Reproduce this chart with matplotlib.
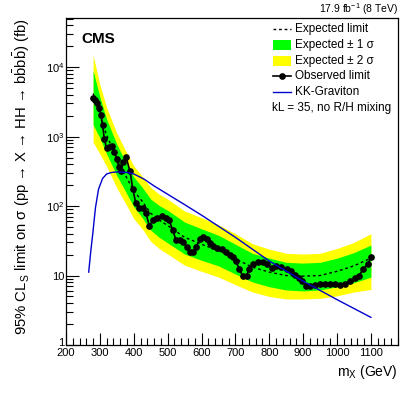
import matplotlib
matplotlib.use("Agg")
import matplotlib.pyplot as plt
import matplotlib.transforms as mtrans
from matplotlib.lines import Line2D
from matplotlib.patches import Rectangle
from matplotlib.ticker import FixedLocator, FixedFormatter, MultipleLocator, LogLocator, NullFormatter

plt.rcParams['font.family'] = ['Liberation Sans', 'DejaVu Sans']
plt.rcParams['mathtext.fontset'] = 'custom'
plt.rcParams['mathtext.rm'] = 'Liberation Sans'
plt.rcParams['mathtext.it'] = 'Liberation Sans:italic'
plt.rcParams['mathtext.bf'] = 'Liberation Sans:bold'

# observed limit (fb)
obs_mass = [279, 286, 292, 298, 303, 308, 313, 320, 328, 335, 342, 350, 356, 362, 369, 377,
            389, 397, 406, 416, 426, 436, 446, 456, 468, 482, 495, 505, 515, 524, 536, 546,
            556, 566, 576, 585, 595, 605, 615, 625, 635, 647, 660, 673, 685, 694, 701, 711,
            721, 733, 741, 752, 767, 782, 794, 807, 821, 836, 851, 863, 876, 888, 898, 908,
            920, 935, 949, 964, 979, 994, 1008, 1023, 1038, 1053, 1065, 1077, 1090, 1100]
obs_limit = [3550, 3390, 3020, 2570, 2040, 1480, 933, 676, 708, 741, 603, 479, 363, 324, 427, 513,
             316, 178, 110, 93, 93, 79, 52, 62, 68, 71, 68, 62, 45, 33, 32, 30,
             26, 22, 22, 26, 34, 36, 34, 29, 26.3, 25.1, 24, 21.9, 20, 18.2, 16.2, 12.6,
             10, 10, 12.6, 14.5, 15.5, 15.8, 14.5, 12.9, 13.5, 13.2, 12.6, 11.5, 10.2, 9.3, 8.3, 7.1,
             7.1, 7.4, 7.6, 7.6, 7.6, 7.6, 7.4, 7.6, 8.3, 9.1, 10, 12.3, 14.5, 18.2]

# expected limit and bands (fb)
exp_mass = [280, 300, 320, 350, 380, 400, 425, 450, 475, 500, 550, 600, 650, 700, 750,
            800, 850, 900, 950, 1000, 1050, 1100]
exp_limit = [4170, 2000, 1050, 479, 251, 166, 117, 79, 63, 52.5, 35.5, 28.2, 22.9, 17.4, 13.2,
             11.2, 10.0, 9.8, 10.0, 11.5, 13.8, 17.8]
exp_p1 = [8910, 3720, 1780, 776, 398, 263, 186, 126, 102, 87, 59, 47, 38, 28.2, 20.9,
          17.8, 15.5, 15.1, 15.5, 17.8, 21.4, 27.5]
exp_m1 = [1480, 955, 562, 275, 148, 98, 68, 45, 35.5, 29.5, 20.4, 16.6, 13.8, 10.5, 8.1,
          6.9, 6.2, 6.0, 6.2, 6.9, 7.9, 9.5]
exp_p2 = [14800, 5620, 2630, 1120, 575, 380, 269, 186, 148, 126, 85, 68, 54, 40, 28.8,
          24, 20.9, 20.4, 20.9, 24.5, 30, 40]
exp_m2 = [832, 562, 372, 182, 100, 66, 47, 31, 24.5, 20.4, 14.1, 11.5, 9.5, 7.4, 5.8,
          5.0, 4.6, 4.6, 4.7, 5.1, 5.8, 6.3]

# KK-Graviton cross section (fb)
kk_mass = [267, 273, 279, 287, 296, 308, 320, 335, 350, 365, 380, 400, 430, 460, 500, 550, 600,
           700, 800, 900, 1000, 1100]
kk_xsec = [11.2, 22, 40, 95, 175, 250, 290, 305, 310, 308, 305, 290, 245, 195, 148, 105, 74,
           35.5, 16.2, 8.3, 4.5, 2.5]

W, H = 407, 396
fig = plt.figure(figsize=(W / 100, H / 100), dpi=100)
ax = fig.add_axes([66 / W, 51 / H, 332 / W, 327 / H])

ax.fill_between(exp_mass, exp_m2, exp_p2, color='#ffff00', lw=0)
ax.fill_between(exp_mass, exp_m1, exp_p1, color='#00ff00', lw=0)
ax.plot(exp_mass, exp_limit, color='black', lw=1, ls=(0, (2, 2)))
ax.plot(obs_mass, obs_limit, color='black', lw=1.2, marker='o', ms=3.8)
ax.plot(kk_mass, kk_xsec, color='#0000cc', lw=1)

ax.set_yscale('log')
ax.set_xlim(200, 1180)
ax.set_ylim(1, 5.1e4)

ax.xaxis.set_major_locator(MultipleLocator(100))
ax.xaxis.set_minor_locator(MultipleLocator(20))
ax.yaxis.set_major_locator(FixedLocator([1, 10, 100, 1000, 10000]))
ax.yaxis.set_major_formatter(FixedFormatter(['1', '10', '$10^{2}$', '$10^{3}$', '$10^{4}$']))
ax.yaxis.set_minor_locator(LogLocator(base=10, subs=range(2, 10)))
ax.yaxis.set_minor_formatter(NullFormatter())
ax.tick_params(which='both', direction='in', top=False, right=False, labelsize=8, width=0.8)
ax.tick_params(which='major', length=9)
ax.tick_params(which='minor', length=5)
ax.tick_params(axis='x', pad=2)
ax.tick_params(axis='y', pad=1)
for s in ax.spines.values():
    s.set_linewidth(0.9)

# nudge the "1" label up a little so it sits above the "200"
fig.canvas.draw()
lab1 = ax.yaxis.get_major_ticks()[0].label1
lab1.set_transform(lab1.get_transform() + mtrans.ScaledTranslation(0, 3 / 100, fig.dpi_scale_trans))

fig.text(398 / W, 1 - 372 / H, r'm$_\mathrm{X}$ (GeV)', ha='right', va='center', fontsize=10)
fig.text(22 / W, 1 - 18 / H,
         '95% CL$_\\mathrm{S}$ limit on σ (pp → X → HH → $\\mathrm{b\\bar{b}b\\bar{b}}$) (fb)',
         rotation=90, ha='center', va='top', fontsize=10.7)
fig.text(398 / W, 1 - 9 / H, r'17.9 fb$^{-1}$ (8 TeV)', ha='right', va='center', fontsize=7.5)
fig.text(81 / W, 1 - 39 / H, 'CMS', ha='left', va='center', fontsize=11, fontweight='bold')

# legend, drawn row by row
x0, x1, xt = 273 / W, 291 / W, 295 / W
rows = [29, 45, 61, 76, 92]
labels = ['Expected limit', 'Expected ± 1 σ', 'Expected ± 2 σ', 'Observed limit', 'KK-Graviton']
for yp, lab in zip(rows, labels):
    fig.text(xt, 1 - yp / H, lab, ha='left', va='center', fontsize=8.5)

y = 1 - rows[0] / H
fig.add_artist(Line2D([x0, x1], [y, y], transform=fig.transFigure, color='black', lw=1, ls=(0, (2, 2))))
y = 1 - rows[1] / H
fig.add_artist(Rectangle((x0, y - 5 / H), x1 - x0, 10 / H, transform=fig.transFigure,
                         facecolor='#00ff00', edgecolor='none'))
y = 1 - rows[2] / H
fig.add_artist(Rectangle((x0, y - 5 / H), x1 - x0, 10 / H, transform=fig.transFigure,
                         facecolor='#ffff00', edgecolor='none'))
y = 1 - rows[3] / H
fig.add_artist(Line2D([x0, (x0 + x1) / 2, x1], [y, y, y], transform=fig.transFigure, color='black',
                      lw=1.2, marker='o', ms=3.8, markevery=[1]))
y = 1 - rows[4] / H
fig.add_artist(Line2D([x0, x1], [y, y], transform=fig.transFigure, color='#0000cc', lw=1))
fig.text(272 / W, 1 - 108 / H, 'kL = 35, no R/H mixing', ha='left', va='center', fontsize=8.5)

fig.savefig('out.png', dpi=100)
